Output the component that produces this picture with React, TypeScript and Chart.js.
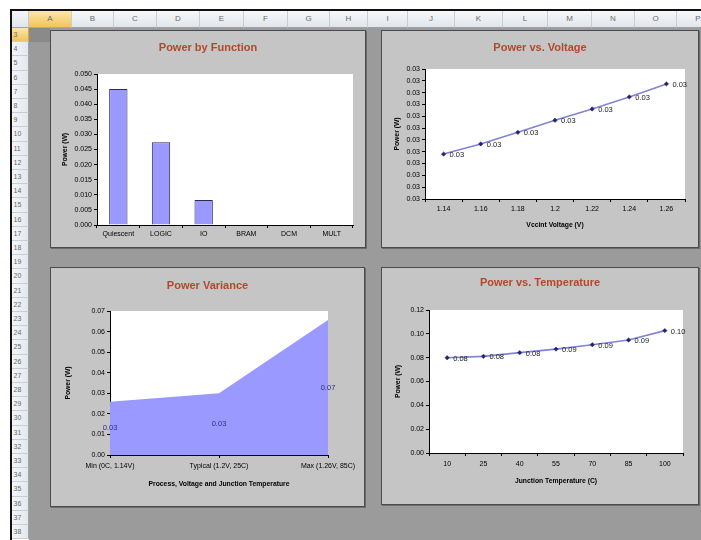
import React, { useEffect, useRef } from "react";
import { Chart, registerables } from "chart.js";

Chart.register(...registerables);

const FONT = '"Liberation Sans", Arial, Helvetica, sans-serif';
Chart.defaults.font.family = FONT;

// ---------- data ----------
const functionCategories = ["Quiescent", "LOGIC", "IO", "BRAM", "DCM", "MULT"];
const functionPower = [0.045, 0.0274, 0.0083, 0, 0, 0];

const voltageLabels = ["1.14", "1.16", "1.18", "1.2", "1.22", "1.24", "1.26"];
const voltagePower = [0.0269, 0.02733, 0.02782, 0.02833, 0.02881, 0.02932, 0.02987];

const varianceLabels = ["Min (0C, 1.14V)", "Typical (1.2V, 25C)", "Max (1.26V, 85C)"];
const variancePower = [0.0259, 0.03, 0.0656];

const temperatureLabels = ["10", "25", "40", "55", "70", "85", "100"];
const temperaturePower = [0.0799, 0.0811, 0.0842, 0.0872, 0.0909, 0.0948, 0.1027];

const columnLetters = ["A", "B", "C", "D", "E", "F", "G", "H", "I", "J", "K", "L", "M", "N", "O", "P"];
const rowNumbers = [3, 4, 5, 6, 7, 8, 9, 10, 11, 12, 13, 14, 15, 16, 17, 18, 19, 20, 21, 22, 23, 24, 25, 26, 27, 28, 29, 30, 31, 32, 33, 34, 35, 36, 37, 38];

// ---------- sheet layout (chrome only) ----------
const columnEdges = [29, 72, 114, 157, 200, 244, 288, 330, 368, 408, 455, 503, 548, 592, 635, 677, 720];
const ROW_H = 14.2;
const PANEL_BG = "#c5c5c5";
const SHEET_BG = "#9b9b9b";
const TITLE_COLOR = "#b4472b";

const tickFont = { size: 7, family: FONT };
const axisTitleFont = { size: 6.8, weight: "bold" as const, family: FONT };

const plotBackground = {
  id: "plotBackground",
  beforeDraw(chart: any) {
    const { ctx, chartArea: a } = chart;
    ctx.save();
    ctx.fillStyle = "#ffffff";
    ctx.fillRect(a.left, a.top, a.right - a.left, a.bottom - a.top);
    ctx.restore();
  },
};

const valueLabels = {
  id: "valueLabels",
  afterDatasetsDraw(chart: any, _args: any, opts: any) {
    if (!opts || !opts.mode) return;
    const ctx = chart.ctx;
    const meta = chart.getDatasetMeta(0);
    const data = chart.data.datasets[0].data as number[];
    const ys = chart.scales.y;
    ctx.save();
    ctx.font = `${opts.size}px ${FONT}`;
    ctx.fillStyle = opts.color;
    ctx.textBaseline = "middle";
    meta.data.forEach((el: any, i: number) => {
      const v = data[i];
      const text = (Math.round(v * 100 + 1e-9) / 100).toFixed(2);
      if (opts.mode === "right") {
        ctx.textAlign = "left";
        ctx.fillText(text, el.x + 6, el.y + 1);
      } else {
        ctx.textAlign = "center";
        ctx.fillText(text, el.x, ys.getPixelForValue(v / 2));
      }
    });
    ctx.restore();
  },
};

function yAxis(min: number, max: number, step: number, decimals: number, width: number, titlePad: number) {
  return {
    type: "linear",
    position: "left",
    min,
    max,
    ticks: {
      stepSize: step,
      font: tickFont,
      color: "#000",
      padding: 2,
      callback: (v: any) => (Math.round(Number(v) * Math.pow(10, decimals) + 1e-9) / Math.pow(10, decimals)).toFixed(decimals),
    },
    grid: { display: true, drawOnChartArea: false, drawTicks: true, tickLength: 3, color: "#000" },
    border: { display: true, color: "#000", width: 1 },
    title: { display: true, text: "Power (W)", font: axisTitleFont, color: "#000", padding: { top: titlePad, bottom: 0 } },
    afterFit: (s: any) => {
      s.width = width;
    },
  };
}

function rightSpacer(width: number) {
  return {
    type: "linear",
    position: "right",
    display: true,
    grid: { display: false, drawTicks: false },
    border: { display: false },
    ticks: { display: false },
    afterFit: (s: any) => {
      s.width = width;
    },
  };
}

function xAxis(offset: boolean, height: number, tickPad: number, title: string, titlePad: number) {
  return {
    type: "category",
    offset,
    ticks: { font: tickFont, color: "#000", padding: tickPad, autoSkip: false, maxRotation: 0, minRotation: 0 },
    grid: { display: true, drawOnChartArea: false, drawTicks: true, tickLength: 3, color: "#000", offset },
    border: { display: true, color: "#000", width: 1 },
    title: { display: title !== "", text: title, font: axisTitleFont, color: "#000", padding: { top: 0, bottom: titlePad } },
    afterFit: (s: any) => {
      s.height = height;
    },
  };
}

function baseOptions(title: string, titleTop: number, titleBottom: number, scales: any, labels: any) {
  return {
    responsive: false,
    animation: false,
    events: [],
    layout: { padding: 0 },
    plugins: {
      legend: { display: false },
      tooltip: { enabled: false },
      title: {
        display: true,
        text: title,
        color: TITLE_COLOR,
        font: { size: 11, weight: "bold", family: FONT },
        padding: { top: titleTop, bottom: titleBottom },
      },
      valueLabels: labels,
    },
    scales,
  };
}

function buildFunction(): any {
  return {
    type: "bar",
    data: {
      labels: functionCategories,
      datasets: [
        {
          data: functionPower,
          backgroundColor: "#9999ff",
          borderColor: "#2b2b55",
          borderWidth: 1,
          barPercentage: 0.43,
          categoryPercentage: 1,
        },
      ],
    },
    options: baseOptions("Power by Function", 11.4, 19.4, {
      x: xAxis(true, 23, 1.5, "", 0),
      y: yAxis(0, 0.05, 0.005, 3, 47, 11.1),
      r: rightSpacer(13),
    }, { mode: "" }),
    plugins: [plotBackground, valueLabels],
  };
}

function buildVoltage(): any {
  return {
    type: "line",
    data: {
      labels: voltageLabels,
      datasets: [
        {
          data: voltagePower,
          borderColor: "#8383d6",
          borderWidth: 1.6,
          pointStyle: "rectRot",
          pointRadius: 2.2,
          pointBackgroundColor: "#23236b",
          pointBorderColor: "#23236b",
          pointBorderWidth: 0.5,
          fill: false,
          tension: 0,
        },
      ],
    },
    options: baseOptions("Power vs. Voltage", 11.4, 14.4, {
      x: xAxis(true, 49, 2.5, "Vccint Voltage (V)", 19.1),
      y: yAxis(0.025, 0.0305, 0.0005, 2, 44, 12.1),
      r: rightSpacer(14),
    }, { mode: "right", size: 7.5, color: "#1a1a1a" }),
    plugins: [plotBackground, valueLabels],
  };
}

function buildVariance(): any {
  return {
    type: "line",
    data: {
      labels: varianceLabels,
      datasets: [
        {
          data: variancePower,
          borderWidth: 0,
          borderColor: "rgba(0,0,0,0)",
          backgroundColor: "#9999ff",
          pointRadius: 0,
          fill: "origin",
          tension: 0,
        },
      ],
    },
    options: baseOptions("Power Variance", 12.4, 18.4, {
      x: xAxis(false, 52, 4.3, "Process, Voltage and Junction Temperature", 19.1),
      y: yAxis(0, 0.07, 0.01, 2, 60, 14.1),
      r: rightSpacer(37),
    }, { mode: "middle", size: 7.5, color: "#2d2d8a" }),
    plugins: [plotBackground, valueLabels],
  };
}

function buildTemperature(): any {
  return {
    type: "line",
    data: {
      labels: temperatureLabels,
      datasets: [
        {
          data: temperaturePower,
          borderColor: "#8383d6",
          borderWidth: 1.6,
          pointStyle: "rectRot",
          pointRadius: 2.2,
          pointBackgroundColor: "#23236b",
          pointBorderColor: "#23236b",
          pointBorderWidth: 0.5,
          fill: false,
          tension: 0,
        },
      ],
    },
    options: baseOptions("Power vs. Temperature", 9.7, 20.1, {
      x: xAxis(true, 52, 3.5, "Junction Temperature (C)", 19.4),
      y: yAxis(0, 0.12, 0.02, 2, 48, 13.4),
      r: rightSpacer(16),
    }, { mode: "right", size: 7.5, color: "#1a1a1a" }),
    plugins: [plotBackground, valueLabels],
  };
}

function ChartPanel(props: { left: number; top: number; width: number; height: number; build: () => any }) {
  const { left, top, width, height, build } = props;
  const ref = useRef<HTMLCanvasElement>(null);
  useEffect(() => {
    const chart = new Chart(ref.current as HTMLCanvasElement, build());
    return () => chart.destroy();
  }, []);
  return (
    <div
      style={{
        position: "absolute",
        left,
        top,
        width,
        height,
        background: PANEL_BG,
        boxShadow: "inset 0 0 0 1px #4b4b4b, 1px 1px 0 #6c6c6c",
      }}
    >
      <canvas ref={ref} width={width} height={height} style={{ display: "block", width, height }} />
    </div>
  );
}

export default function App() {
  return (
    <div
      style={{
        position: "fixed",
        left: 0,
        top: 0,
        width: 701,
        height: 540,
        overflow: "hidden",
        background: "#ffffff",
        fontFamily: FONT,
      }}
    >
      {/* sheet background */}
      <div style={{ position: "absolute", left: 29, top: 28, width: 672, height: 512, background: SHEET_BG }} />
      {/* outer black frame */}
      <div style={{ position: "absolute", left: 10, top: 9, width: 691, height: 1.5, background: "#111" }} />
      <div style={{ position: "absolute", left: 10, top: 9, width: 1.5, height: 531, background: "#111" }} />
      {/* corner */}
      <div
        style={{
          position: "absolute",
          left: 11.5,
          top: 10.5,
          width: 17.5,
          height: 17.5,
          background: "linear-gradient(#f4f6f9,#e1e6ec)",
          borderRight: "1px solid #c3c9d1",
          borderBottom: "1px solid #9aa3ad",
          boxSizing: "border-box",
        }}
      />
      {/* column headers */}
      {columnLetters.map((c, i) => (
        <div
          key={c}
          style={{
            position: "absolute",
            left: columnEdges[i],
            top: 10.5,
            width: columnEdges[i + 1] - columnEdges[i],
            height: 17.5,
            boxSizing: "border-box",
            borderRight: "1px solid #c8ced6",
            borderBottom: i === 0 ? "1px solid #d9a43a" : "1px solid #9aa3ad",
            background: i === 0 ? "linear-gradient(#fbe7a8,#f2c45a)" : "linear-gradient(#f6f8fa,#e1e6ec)",
            color: "#6a6a6a",
            fontSize: 8,
            display: "flex",
            alignItems: "center",
            justifyContent: "center",
          }}
        >
          {c}
        </div>
      ))}
      {/* row headers */}
      {rowNumbers.map((n, i) => (
        <div
          key={n}
          style={{
            position: "absolute",
            left: 11.5,
            top: 28 + i * ROW_H,
            width: 17.5,
            height: ROW_H,
            boxSizing: "border-box",
            borderBottom: "1px solid #c8ced6",
            borderRight: i === 0 ? "1px solid #d9a43a" : "1px solid #9aa3ad",
            background: i === 0 ? "linear-gradient(#fbe7a8,#f2c45a)" : "linear-gradient(90deg,#f4f6f9,#e3e8ee)",
            color: "#6a6a6a",
            fontSize: 7,
            display: "flex",
            alignItems: "center",
            justifyContent: "flex-start",
            paddingLeft: 2,
          }}
        >
          {n}
        </div>
      ))}
      {/* darker band of the selected row */}
      <div style={{ position: "absolute", left: 29, top: 28, width: 21, height: ROW_H, background: "#8a8a8a" }} />

      <ChartPanel left={50} top={30} width={316} height={218} build={buildFunction} />
      <ChartPanel left={381} top={30} width={318} height={218} build={buildVoltage} />
      <ChartPanel left={50} top={267} width={315} height={240} build={buildVariance} />
      <ChartPanel left={381} top={267} width={318} height={238} build={buildTemperature} />
    </div>
  );
}
